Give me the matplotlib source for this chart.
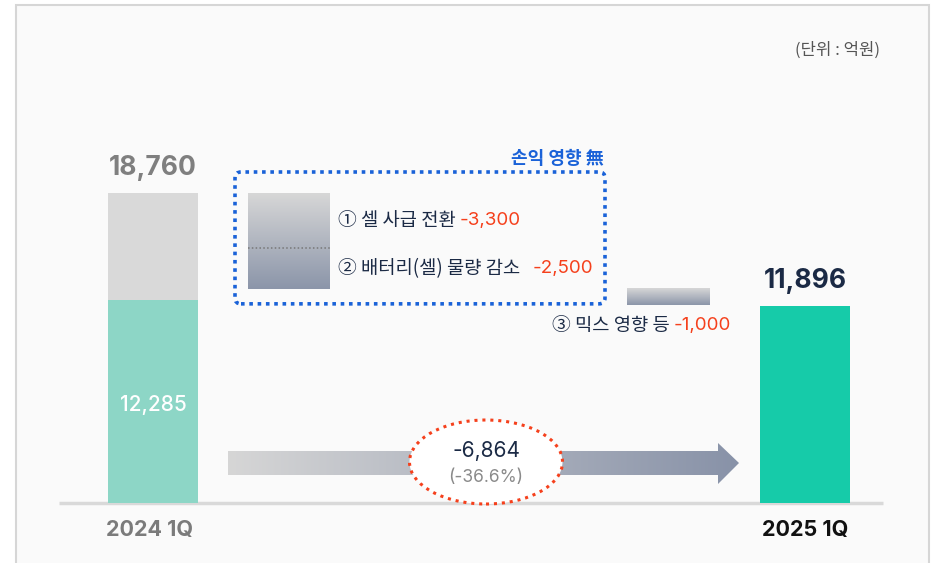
import numpy as np
import matplotlib.pyplot as plt
from matplotlib.patches import Rectangle, Polygon, Ellipse, FancyBboxPatch
from matplotlib.colors import LinearSegmentedColormap

plt.rcParams['font.family'] = ['Inter', 'Noto Sans CJK KR', 'DejaVu Sans']
KR = ['Noto Sans CJK KR', 'DejaVu Sans']

# data (억원)
periods = ['2024 1Q', '2025 1Q']
total_2024 = 18760
base_2024 = 12285
total_2025 = 11896
change = -6864
change_pct = -36.6
factor_labels = ['① 셀 사급 전환', '② 배터리(셀) 물량 감소', '③ 믹스 영향 등']
factor_values = [-3300, -2500, -1000]

# layout (pixels)
W, H = 932, 563
BASE_PX = 503
PER_PX = total_2024 / 310.0


def py(p):
    # pixel row -> data value
    return (BASE_PX - p) * PER_PX


def gradient(ax, x0, x1, y0, y1, c0, c1, horizontal=False, clip=None):
    cmap = LinearSegmentedColormap.from_list('g', [c0, c1])
    arr = np.linspace(0, 1, 256)
    arr = arr.reshape(1, -1) if horizontal else arr.reshape(-1, 1)
    im = ax.imshow(arr, cmap=cmap, extent=[x0, x1, y0, y1], origin='lower',
                   aspect='auto', zorder=3, interpolation='bicubic')
    if clip is not None:
        im.set_clip_path(clip)
    return im


fig = plt.figure(figsize=(W / 100, H / 100), dpi=100)
fig.patch.set_facecolor('white')
ax = fig.add_axes([0, 0, 1, 1])
ax.axis('off')

# panel background
ax.add_patch(Rectangle((16, py(580)), 913, py(5) - py(580), fc='#fafafa',
                       ec='#d6d6d6', lw=1.5, zorder=0))

dark = '#1b2a45'
red = '#f5401c'
blue = '#1a62d8'

ax.text(880, py(50), '(단위 : 억원)', ha='right', va='center', fontsize=12,
        color='#555555', family=KR)

# bars
x_bars = [153, 805]
bw = 90
ax.bar(x_bars[0], total_2024, width=bw, color='#d9d9d9', zorder=2)
ax.bar(x_bars[0], base_2024, width=bw, color='#8dd6c6', zorder=2)
ax.bar(x_bars[1], total_2025, width=bw, color='#16cba9', zorder=2)
ax.plot([59, 883], [0, 0], color='#d9d9d9', lw=2.5, zorder=1,
        solid_capstyle='butt')

ax.text(x_bars[0], total_2024 + 25 * PER_PX, f'{total_2024:,}', ha='center',
        va='center', fontsize=19, fontweight='bold', color='#7f7f7f')
ax.text(x_bars[0], base_2024 / 2 - 4 * PER_PX, f'{base_2024:,}', ha='center',
        va='center', fontsize=15, fontweight='medium', color='white')
ax.text(x_bars[1], total_2025 + 25 * PER_PX, f'{total_2025:,}', ha='center',
        va='center', fontsize=19, fontweight='bold', color=dark)
ax.text(x_bars[0] - 3, py(530), periods[0], ha='center', va='center',
        fontsize=15.5, fontweight='bold', color='#7b7b7b')
ax.text(x_bars[1], py(530), periods[1], ha='center', va='center',
        fontsize=15.5, fontweight='bold', color='#111111')

# waterfall boxes
top12 = total_2024
mid12 = total_2024 + factor_values[0]
bot12 = mid12 + factor_values[1]
bot3 = bot12 + factor_values[2]
gradient(ax, 248, 330, bot12, top12, '#8b95a9', '#d7d7d7')
ax.plot([248, 330], [mid12, mid12], ls=(0, (1, 1.5)), color='#777777',
        lw=1.1, zorder=4)
gradient(ax, 627, 710, bot3, bot12, '#8b95a9', '#d7d7d7')

# factor labels 1, 2
for lab, val, yv, gap in [(factor_labels[0], factor_values[0],
                           (top12 + mid12) / 2, 3),
                          (factor_labels[1], factor_values[1],
                           (mid12 + bot12) / 2, 9)]:
    t = ax.text(338, yv, lab, ha='left', va='center', fontsize=13.5,
                fontweight='medium', color=dark, zorder=5, family=KR)
    ax.annotate(f'{val:,}', xy=(1, 0.5), xycoords=t, xytext=(gap, 0),
                textcoords='offset points', ha='left', va='center',
                fontsize=13.5, color=red, zorder=5)

# factor label 3
t3 = ax.text(731, bot3 - 20 * PER_PX, f'{factor_values[2]:,}', ha='right',
             va='center', fontsize=13.5, color=red, zorder=5)
ax.annotate(factor_labels[2], xy=(0, 0.5), xycoords=t3, xytext=(-3, 0),
            textcoords='offset points', ha='right', va='center',
            fontsize=13.5, fontweight='medium', color=dark, zorder=5,
            family=KR)

# blue dotted frame
f_top = top12 + 21 * PER_PX
f_bot = bot12 - 15 * PER_PX
ax.add_patch(FancyBboxPatch((235, f_bot), 370, f_top - f_bot,
                            boxstyle='round,pad=0,rounding_size=6',
                            mutation_aspect=PER_PX, fc='none', ec=blue,
                            lw=2.6, ls=(0, (1, 1.3)), zorder=4))
ax.text(604, f_top + 13 * PER_PX, '손익 영향 無', ha='right', va='center',
        fontsize=13, fontweight='bold', color=blue, family=KR)

# arrow
arrow_pts = [(228, py(451)), (718, py(451)), (718, py(443)), (739, py(463)),
             (718, py(484)), (718, py(475)), (228, py(475))]
arrow = Polygon(arrow_pts, closed=True, fc='none', ec='none')
ax.add_patch(arrow)
gradient(ax, 228, 739, py(484), py(443), '#d6d6d6', '#8892a8',
         horizontal=True, clip=arrow)

ax.add_patch(Ellipse((486, py(462)), 153, 84 * PER_PX, fc='white', ec=red,
                     lw=2.2, ls=(0, (1, 1.6)), zorder=6))
ax.text(486, py(451), f'{change:,}', ha='center', va='center', fontsize=15,
        color=dark, zorder=7)
ax.text(486, py(478), f'({change_pct}%)', ha='center', va='center',
        fontsize=12.5, color='#8a8a8a', zorder=7)

ax.set_xlim(0, W)
ax.set_ylim(py(H), py(0))
fig.savefig('out.png', dpi=100)
